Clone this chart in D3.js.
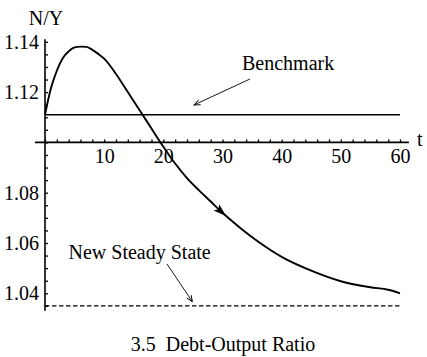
<!DOCTYPE html>
<html lang="en">
<head>
    <style>
        body { margin: 0; background: #fff; }
        svg { display: block; font-family: "Liberation Serif", "DejaVu Serif", serif; }
        text { font-family: "Liberation Serif", "DejaVu Serif", serif; fill: #000; }
    </style>
</head>
<body>
    <svg width="427" height="357"></svg>
    <script src="https://cdn.jsdelivr.net/npm/d3@7"></script>
    <script>
        // Data
        const tValues = [0, 1, 2, 3, 4, 5, 6, 7, 8, 9, 10, 12, 14, 16, 18, 20, 22, 24, 26, 28, 30, 33, 36, 40, 45, 50, 55, 58, 60];
        const ratioValues = [1.111, 1.1215, 1.1285, 1.1335, 1.1362, 1.1378, 1.1381, 1.1380, 1.1368, 1.1352, 1.1333,
            1.1272, 1.1200, 1.1128, 1.1055, 1.0983, 1.0916, 1.0858, 1.0810, 1.0765, 1.0720, 1.0660, 1.0606,
            1.0545, 1.0490, 1.0448, 1.0424, 1.0414, 1.0400];
        const benchmark = 1.111;
        const newSteadyState = 1.035;
        const xTickLabels = [10, 20, 30, 40, 50, 60];
        const xMinorTicks = d3.range(0, 61, 2);
        const yTickLabels = [1.04, 1.06, 1.08, 1.12, 1.14];
        const yMinorTicks = d3.range(1.035, 1.1401, 0.005);

        const FONT = "'Liberation Serif', 'DejaVu Serif', serif";
        const svg = d3.select("svg");

        // Scales: t=0 sits on the vertical axis, N/Y=1.10 on the horizontal one
        const xScale = d3.scaleLinear().domain([0, 60]).range([45, 400]);
        const yScale = d3.scaleLinear().domain([1.10, 1.14]).range([142.4, 41.8]);

        const data = tValues.map((t, i) => ({ t: t, v: ratioValues[i] }));

        /************************************************************************************
        * Axes
        ************************************************************************************/
        // Axis lines
        svg.append("line")
            .attr("x1", xScale(-1.7)).attr("x2", xScale(61.5))
            .attr("y1", yScale(1.10)).attr("y2", yScale(1.10))
            .attr("stroke", "#000").attr("stroke-width", 1.6);
        svg.append("line")
            .attr("x1", xScale(0)).attr("x2", xScale(0))
            .attr("y1", yScale(1.141)).attr("y2", yScale(1.0331))
            .attr("stroke", "#000").attr("stroke-width", 1.6);

        // Small tick marks (above x axis, right of y axis)
        const xTickAxis = svg.append("g")
            .attr("transform", `translate(0, ${yScale(1.10)})`)
            .call(d3.axisTop(xScale).tickValues(xMinorTicks).tickSize(3).tickFormat(""));
        const yTickAxis = svg.append("g")
            .attr("transform", `translate(${xScale(0)}, 0)`)
            .call(d3.axisRight(yScale).tickValues(yMinorTicks).tickSize(3).tickFormat(""));
        [xTickAxis, yTickAxis].forEach(g => {
            g.select(".domain").remove();
            g.selectAll("line").attr("stroke-width", 1.3);
        });

        // Tick labels
        const xLabelAxis = svg.append("g")
            .attr("transform", `translate(0, ${yScale(1.10)})`)
            .call(d3.axisBottom(xScale).tickValues(xTickLabels).tickSize(0).tickPadding(6.5));
        const yLabelAxis = svg.append("g")
            .attr("transform", `translate(${xScale(0)}, 0)`)
            .call(d3.axisLeft(yScale).tickValues(yTickLabels).tickSize(0).tickPadding(6).tickFormat(d3.format(".2f")));
        [xLabelAxis, yLabelAxis].forEach(g => {
            g.select(".domain").remove();
            g.attr("font-family", FONT).attr("font-size", 20);
            g.selectAll("text").attr("fill", "#000");
        });

        // Axis titles
        svg.append("text").attr("x", 46).attr("y", 25)
            .attr("text-anchor", "middle").attr("font-size", 20).text("N/Y");
        svg.append("text").attr("x", 417).attr("y", 146)
            .attr("font-size", 20).text("t");

        /************************************************************************************
        * Reference lines
        ************************************************************************************/
        svg.append("line")
            .attr("x1", xScale(0)).attr("x2", xScale(60))
            .attr("y1", yScale(benchmark)).attr("y2", yScale(benchmark))
            .attr("stroke", "#000").attr("stroke-width", 1.5);
        svg.append("line")
            .attr("x1", xScale(0)).attr("x2", xScale(60))
            .attr("y1", yScale(newSteadyState)).attr("y2", yScale(newSteadyState))
            .attr("stroke", "#000").attr("stroke-width", 1.3)
            .attr("stroke-dasharray", "4.5,2.5");

        /************************************************************************************
        * Debt-output path
        ************************************************************************************/
        const lineGenerator = d3.line()
            .x(d => xScale(d.t))
            .y(d => yScale(d.v))
            .curve(d3.curveMonotoneX);
        const path = svg.append("path")
            .datum(data)
            .attr("fill", "none")
            .attr("stroke", "#000")
            .attr("stroke-width", 1.9)
            .attr("d", lineGenerator);

        // Find the path length where the path reaches a given x
        function lengthAtX(node, x) {
            let lo = 0, hi = node.getTotalLength();
            for (let k = 0; k < 40; k++) {
                const mid = (lo + hi) / 2;
                if (node.getPointAtLength(mid).x < x) lo = mid; else hi = mid;
            }
            return lo;
        }

        // Direction arrow on the curve
        const tipLen = lengthAtX(path.node(), xScale(30.6));
        const tip = path.node().getPointAtLength(tipLen);
        const back = path.node().getPointAtLength(tipLen - 4);
        const angle = Math.atan2(tip.y - back.y, tip.x - back.x) * 180 / Math.PI;
        svg.append("path")
            .attr("d", "M0,0 L-13,-4.2 L-10,0 L-13,4.2 Z")
            .attr("fill", "#000")
            .attr("transform", `translate(${tip.x}, ${tip.y}) rotate(${angle})`);

        /************************************************************************************
        * Annotations
        ************************************************************************************/
        function annotArrow(x1, y1, x2, y2) {
            const a = Math.atan2(y2 - y1, x2 - x1) * 180 / Math.PI;
            svg.append("line")
                .attr("x1", x1).attr("y1", y1).attr("x2", x2).attr("y2", y2)
                .attr("stroke", "#000").attr("stroke-width", 0.9);
            svg.append("path")
                .attr("d", "M-6,-2.6 L0,0 L-6,2.6")
                .attr("fill", "none").attr("stroke", "#000").attr("stroke-width", 0.9)
                .attr("transform", `translate(${x2}, ${y2}) rotate(${a})`);
        }

        svg.append("text").attr("x", 242).attr("y", 69.5)
            .attr("font-size", 20).text("Benchmark");
        annotArrow(250, 79, xScale(25.2), yScale(1.1149));

        svg.append("text").attr("x", 68.5).attr("y", 258.5)
            .attr("font-size", 20).text("New Steady State");
        annotArrow(167, 264, xScale(24.9), yScale(1.0367));

        // Caption
        svg.append("text").attr("x", 223).attr("y", 351)
            .attr("text-anchor", "middle").attr("font-size", 20)
            .style("white-space", "pre").text("3.5  Debt-Output Ratio");
    </script>
</body>
</html>
